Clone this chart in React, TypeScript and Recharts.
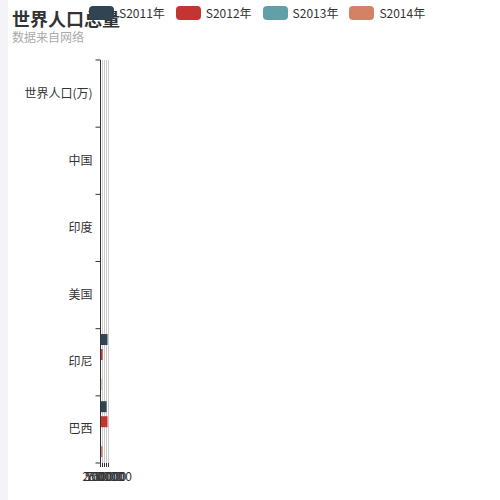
import { Bar, BarChart, CartesianGrid, XAxis, YAxis } from "recharts";

const categories = ["巴西", "印尼", "美国", "印度", "中国", "世界人口(万)"];
const s2011 = [760000, 880000, 0, 0, 0, 0];
const s2012 = [880000, 260000, 0, 0, 0, 0];
const s2013 = [60000, 60000, 60000, 0, 0, 0];
const s2014 = [260000, 120000, 0, 0, 0, 0];
const xTicks = [0, 250000, 500000, 750000, 1000000];

const SERIES = [
  { key: "s2011", name: "S2011年", color: "#2f4554" },
  { key: "s2012", name: "S2012年", color: "#c23531" },
  { key: "s2013", name: "S2013年", color: "#61a0a8" },
  { key: "s2014", name: "S2014年", color: "#d48265" },
];

const data = categories.map((name, i) => ({
  name,
  s2011: s2011[i],
  s2012: s2012[i],
  s2013: s2013[i],
  s2014: s2014[i],
}));

const FONT = '"Noto Sans CJK SC", "Noto Sans", sans-serif';
const PLOT_TOP = 60;
const PLOT_BOTTOM = 463;
const HALF_BAND = (PLOT_BOTTOM - PLOT_TOP) / categories.length / 2;

// ticks sit on the band edges, labels in the band centre
function CategoryTick(props: any) {
  const { x, y, payload, index } = props;
  return (
    <g>
      <line x1={x - 5} x2={x} y1={y + HALF_BAND} y2={y + HALF_BAND} stroke="#333" />
      {index === categories.length - 1 && (
        <line x1={x - 5} x2={x} y1={y - HALF_BAND} y2={y - HALF_BAND} stroke="#333" />
      )}
      <text x={x - 8} y={y} dy={4} textAnchor="end" fill="#333" fontSize={12} fontFamily={FONT}>
        {payload.value}
      </text>
    </g>
  );
}

function LegendRow() {
  return (
    <div style={{ display: "flex", alignItems: "center", gap: 11, fontFamily: FONT, fontSize: 12, color: "#333" }}>
      {SERIES.map((s) => (
        <div key={s.key} style={{ display: "flex", alignItems: "center", gap: 5 }}>
          <span style={{ width: 25, height: 14, borderRadius: 4, background: s.color, display: "inline-block" }} />
          <span>{s.name}</span>
        </div>
      ))}
    </div>
  );
}

export default function App() {
  return (
    <div style={{ position: "fixed", left: 0, top: 0, width: 500, height: 500, background: "#fff" }}>
      <div style={{ position: "absolute", left: 0, top: 0, width: 8, height: 500, background: "#f3f3f8" }} />
      <div style={{ position: "absolute", left: 12, top: 5, fontFamily: FONT, fontSize: 18, fontWeight: 700, color: "#333", lineHeight: "26px" }}>
        世界人口总量
      </div>
      <div style={{ position: "absolute", left: 12, top: 29, fontFamily: FONT, fontSize: 12, color: "#aaa", lineHeight: "16px" }}>
        数据来自网络
      </div>
      <div style={{ position: "absolute", left: 0, top: 0 }}>
        <BarChart
          width={500}
          height={500}
          layout="vertical"
          data={data}
          margin={{ top: PLOT_TOP, right: 391.5, bottom: 500 - PLOT_BOTTOM - 28, left: 0 }}
          barCategoryGap="8%"
          barGap={4}
        >
          <CartesianGrid horizontal={false} stroke="#ccc" />
          <XAxis
            type="number"
            domain={[0, 1000000]}
            ticks={xTicks}
            interval={0}
            height={28}
            axisLine={false}
            tickLine={{ stroke: "#333" }}
            tickSize={4}
            tickMargin={5}
            tick={{ fill: "#333", fontSize: 12, fontFamily: FONT }}
          />
          <YAxis
            type="category"
            dataKey="name"
            reversed
            width={100.5}
            interval={0}
            tickSize={0}
            tickMargin={0}
            axisLine={{ stroke: "#333" }}
            tickLine={false}
            tick={<CategoryTick />}
          />
          {SERIES.map((s) => (
            <Bar key={s.key} dataKey={s.key} name={s.name} fill={s.color} isAnimationActive={false} />
          ))}
        </BarChart>
      </div>
      <div style={{ position: "absolute", left: 89, top: 4 }}>
        <LegendRow />
      </div>
    </div>
  );
}
